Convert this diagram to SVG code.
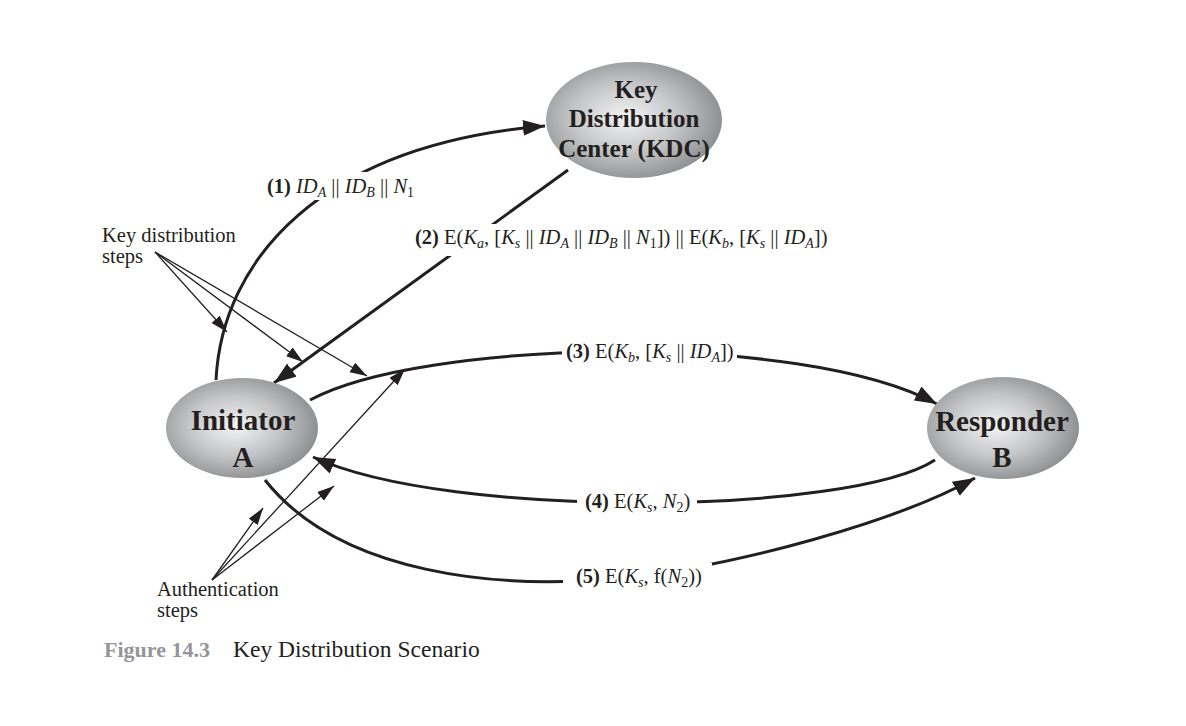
<svg xmlns="http://www.w3.org/2000/svg" width="1186" height="726" viewBox="0 0 1186 726">
<style>
.node{stroke:none}
.nt{font-family:"Liberation Serif",serif;font-weight:bold;font-size:25px;fill:#231f20;text-anchor:middle}
.nt2{font-family:"Liberation Serif",serif;font-weight:bold;font-size:29px;fill:#231f20;text-anchor:middle}
.lbl{font-family:"Liberation Serif",serif;font-size:20.5px;fill:#231f20}
.b{font-weight:bold}
.i{font-style:italic}
.sub{font-size:14px}
.thick{fill:none;stroke:#231f20;stroke-width:3}
.thin{fill:none;stroke:#231f20;stroke-width:1.3}
.bg{fill:#fff}
</style>
<defs>
<radialGradient id="g" cx="45%" cy="48%" r="55%">
<stop offset="0" stop-color="#f4f4f4"/>
<stop offset="0.55" stop-color="#c4c5c7"/>
<stop offset="1" stop-color="#8f9092"/>
</radialGradient>
<marker id="ah" markerUnits="userSpaceOnUse" markerWidth="24" markerHeight="18" refX="22" refY="8" orient="auto">
<path d="M0,0 L22,8 L0,16 z" fill="#231f20"/>
</marker>
<marker id="at" markerUnits="userSpaceOnUse" markerWidth="18" markerHeight="12" refX="17" refY="5.5" orient="auto">
<path d="M0,0 L17,5.5 L0,11 z" fill="#231f20"/>
</marker>
</defs>
<rect width="1186" height="726" fill="#fff"/>

<g id="connectors">
<path class="thick" d="M216,380 C222,260 320,145 545,126" marker-end="url(#ah)"/>
<path class="thick" d="M568,170 L274,383" marker-end="url(#ah)"/>
<path class="thick" d="M310,400 C420,340 800,330 937,404" marker-end="url(#ah)"/>
<path class="thick" d="M935,460 C850,515 450,520 313,457" marker-end="url(#ah)"/>
<path class="thick" d="M265,480 C340,575 500,590 620,578 S900,520 975,478" marker-end="url(#ah)"/>
<path class="thin" d="M155,252 L227,332" marker-end="url(#at)"/>
<path class="thin" d="M155,252 L303,362" marker-end="url(#at)"/>
<path class="thin" d="M155,252 L367,376" marker-end="url(#at)"/>
<path class="thin" d="M212,580 L263,508" marker-end="url(#at)"/>
<path class="thin" d="M212,580 L405,369" marker-end="url(#at)"/>
<path class="thin" d="M212,580 L334,486" marker-end="url(#at)"/>
</g>

<g id="labels">
<rect class="bg" x="262" y="172" width="170" height="28"/>
<text class="lbl" x="267" y="193"><tspan class="b">(1)</tspan> <tspan class="i">ID</tspan><tspan class="i sub" dy="4">A</tspan><tspan dy="-4"> || </tspan><tspan class="i">ID</tspan><tspan class="i sub" dy="4">B</tspan><tspan dy="-4"> || </tspan><tspan class="i">N</tspan><tspan class="sub" dy="4">1</tspan></text>
<rect class="bg" x="410" y="224" width="428" height="32"/>
<text class="lbl" x="415" y="244"><tspan class="b">(2)</tspan> E(<tspan class="i">K</tspan><tspan class="i sub" dy="4">a</tspan><tspan dy="-4">, [</tspan><tspan class="i">K</tspan><tspan class="i sub" dy="4">s</tspan><tspan dy="-4"> || </tspan><tspan class="i">ID</tspan><tspan class="i sub" dy="4">A</tspan><tspan dy="-4"> || </tspan><tspan class="i">ID</tspan><tspan class="i sub" dy="4">B</tspan><tspan dy="-4"> || </tspan><tspan class="i">N</tspan><tspan class="sub" dy="4">1</tspan><tspan dy="-4">]) || E(</tspan><tspan class="i">K</tspan><tspan class="i sub" dy="4">b</tspan><tspan dy="-4">, [</tspan><tspan class="i">K</tspan><tspan class="i sub" dy="4">s</tspan><tspan dy="-4"> || </tspan><tspan class="i">ID</tspan><tspan class="i sub" dy="4">A</tspan><tspan dy="-4">])</tspan></text>
<rect class="bg" x="562" y="338" width="175" height="29"/>
<text class="lbl" x="566" y="358"><tspan class="b">(3)</tspan> E(<tspan class="i">K</tspan><tspan class="i sub" dy="4">b</tspan><tspan dy="-4">, [</tspan><tspan class="i">K</tspan><tspan class="i sub" dy="4">s</tspan><tspan dy="-4"> || </tspan><tspan class="i">ID</tspan><tspan class="i sub" dy="4">A</tspan><tspan dy="-4">])</tspan></text>
<rect class="bg" x="577" y="488" width="120" height="29"/>
<text class="lbl" x="585" y="508"><tspan class="b">(4)</tspan> E(<tspan class="i">K</tspan><tspan class="i sub" dy="4">s</tspan><tspan dy="-4">, </tspan><tspan class="i">N</tspan><tspan class="sub" dy="4">2</tspan><tspan dy="-4">)</tspan></text>
<rect class="bg" x="563" y="563" width="149" height="30"/>
<text class="lbl" x="576" y="583"><tspan class="b">(5)</tspan> E(<tspan class="i">K</tspan><tspan class="i sub" dy="4">s</tspan><tspan dy="-4">, f(</tspan><tspan class="i">N</tspan><tspan class="sub" dy="4">2</tspan><tspan dy="-4">))</tspan></text>
<text class="lbl" x="102" y="242">Key distribution</text>
<text class="lbl" x="102" y="263">steps</text>
<text class="lbl" x="157" y="596">Authentication</text>
<text class="lbl" x="157" y="617">steps</text>
</g>

<g id="kdc">
<ellipse class="node" cx="634" cy="120" rx="88" ry="58" fill="url(#g)"/>
<text class="nt" x="636" y="98">Key</text>
<text class="nt" x="634" y="127">Distribution</text>
<text class="nt" x="634" y="157">Center (KDC)</text>
</g>
<g id="initiator">
<ellipse class="node" cx="242" cy="428" rx="76" ry="50" fill="url(#g)"/>
<text class="nt2" x="243" y="430">Initiator</text>
<text class="nt2" x="243" y="467">A</text>
</g>
<g id="responder">
<ellipse class="node" cx="1003" cy="428" rx="76" ry="51" fill="url(#g)"/>
<text class="nt2" x="1002" y="431">Responder</text>
<text class="nt2" x="1002" y="467">B</text>
</g>

<g id="caption">
<text x="104" y="657" font-family="Liberation Serif,serif" font-size="22" font-weight="bold" fill="#939598">Figure 14.3</text>
<text x="233" y="657" font-family="Liberation Serif,serif" font-size="23.5" fill="#231f20">Key Distribution Scenario</text>
</g>
</svg>
